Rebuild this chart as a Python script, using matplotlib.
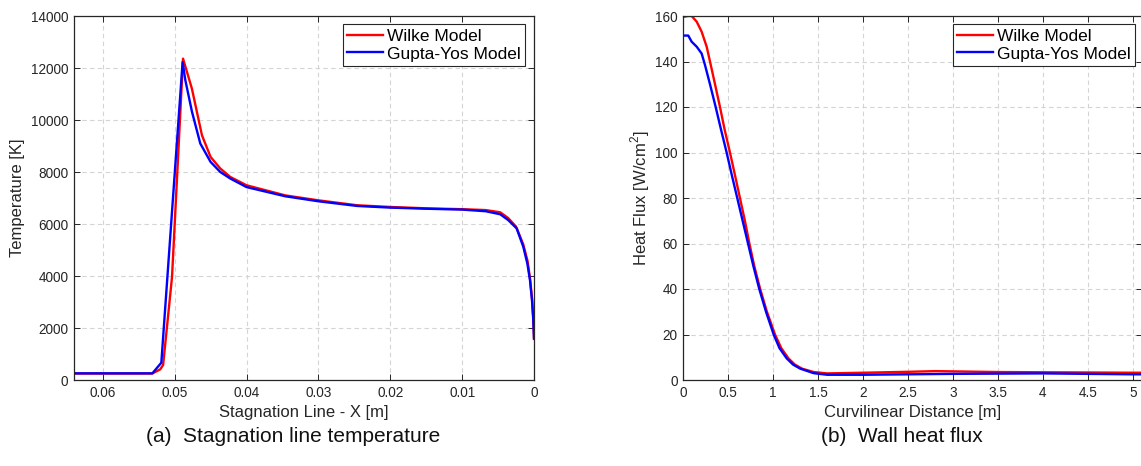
import matplotlib
matplotlib.use('Agg')
import matplotlib.pyplot as plt

plt.rcParams['font.family'] = ['Liberation Sans', 'DejaVu Sans']
plt.rcParams['mathtext.fontset'] = 'custom'
plt.rcParams['mathtext.rm'] = 'Liberation Sans'

# %% data: stagnation line temperature
x_wilke_T = [0.064, 0.0531, 0.0520, 0.0516, 0.05036, 0.04883, 0.0476, 0.0462, 0.0450,
             0.04365, 0.04226, 0.0400, 0.0346, 0.0300, 0.0246, 0.0200, 0.0147, 0.0100,
             0.0067, 0.0047, 0.0036, 0.0025, 0.0015, 0.0009, 0.00056, 0.00028, 0.0001, 0.0]
T_wilke = [250, 250, 410, 580, 3970, 12360, 11210, 9415, 8580,
           8135, 7810, 7490, 7100, 6910, 6720, 6655, 6600, 6570,
           6535, 6450, 6230, 5900, 5220, 4580, 3920, 3150, 2380, 1580]

x_gupta_T = [0.064, 0.0531, 0.05185, 0.04889, 0.04851, 0.04758, 0.04643, 0.0450,
             0.04365, 0.04226, 0.0400, 0.0346, 0.0300, 0.0246, 0.0200, 0.0147, 0.0100,
             0.0067, 0.0047, 0.00358, 0.00241, 0.00149, 0.00093, 0.00056, 0.00028, 0.0001, 0.0]
T_gupta = [256, 256, 665, 12230, 11530, 10310, 9096, 8389,
           8000, 7750, 7420, 7066, 6874, 6694, 6630, 6585, 6554,
           6490, 6374, 6149, 5830, 5123, 4485, 3843, 3074, 2306, 1600]

# %% data: wall heat flux
s_wilke = [0, 0.05, 0.093, 0.149, 0.204, 0.26, 0.297, 0.35, 0.408, 0.46, 0.519, 0.575,
           0.63, 0.685, 0.735, 0.79, 0.855, 0.93, 1.02, 1.09, 1.17, 1.24, 1.32, 1.45,
           1.6, 2.0, 2.5, 2.8, 3.0, 3.5, 4.0, 4.5, 5.0, 5.1]
q_wilke = [159.6, 160, 160, 157.5, 153.1, 146.5, 140, 130.5, 120, 110, 100, 90,
           80, 70, 60, 50, 40, 30, 20, 14, 9.5, 6.8, 5, 3.5,
           2.9, 3.2, 3.6, 3.9, 3.8, 3.5, 3.4, 3.3, 3.2, 3.2]

s_gupta = [0, 0.055, 0.093, 0.149, 0.204, 0.241, 0.297, 0.36, 0.42, 0.482, 0.54,
           0.60, 0.66, 0.72, 0.78, 0.845, 0.92, 1.005, 1.07, 1.15, 1.22, 1.3, 1.45,
           1.6, 2.0, 2.5, 3.0, 3.5, 4.0, 4.5, 5.0, 5.1]
q_gupta = [151.4, 151.4, 148.7, 146.5, 143.5, 138.5, 130, 120, 110, 100, 90,
           80, 70, 60, 50, 40, 30, 20, 14, 9.5, 6.8, 5, 3.0,
           2.3, 2.3, 2.5, 2.7, 2.8, 2.9, 2.7, 2.5, 2.5]

labels = ['Wilke Model', 'Gupta-Yos Model']
captions = ['(a)  Stagnation line temperature', '(b)  Wall heat flux']

W, H = 1141, 466
dark = '#262626'


def style(ax):
    ax.grid(True, linestyle=(0, (4, 3)), color='#d4d4d4', linewidth=0.8)
    ax.set_axisbelow(True)
    ax.tick_params(direction='in', top=True, right=True, length=4, width=0.7,
                   labelsize=9.8, colors=dark, pad=4)
    for sp in ax.spines.values():
        sp.set_color(dark)
        sp.set_linewidth(0.9)


fg = plt.figure(figsize=(W / 100, H / 100), dpi=100)

# %% left
axl = fg.add_axes([74 / W, 1 - 380 / H, 460 / W, 364 / H])
axl.plot(x_wilke_T, T_wilke, color='#ff0000', lw=1.7, label=labels[0])
axl.plot(x_gupta_T, T_gupta, color='#0000ff', lw=1.7, label=labels[1])
axl.set_xlim(0.064, 0)
axl.set_ylim(0, 14000)
axl.set_xticks([0.06, 0.05, 0.04, 0.03, 0.02, 0.01, 0])
axl.set_xticklabels(['0.06', '0.05', '0.04', '0.03', '0.02', '0.01', '0'])
axl.set_yticks(range(0, 14001, 2000))
style(axl)
axl.set_xlabel('Stagnation Line - X [m]', fontsize=12, color=dark)
axl.set_ylabel('Temperature [K]', fontsize=12, color=dark)
axl.xaxis.set_label_coords(0.5, -0.07)
axl.yaxis.set_label_coords(-0.106, 0.5)
leg = axl.legend(loc='upper right', bbox_to_anchor=(0.9804, 0.9772), borderaxespad=0,
                 fontsize=12.5, fancybox=False, framealpha=1, edgecolor=dark,
                 handlelength=2.1, handletextpad=0.2, borderpad=0.25, labelspacing=0.15)
leg.get_frame().set_linewidth(0.8)

# %% right
axr = fg.add_axes([683.3 / W, 1 - 380 / H, 458.5 / W, 364 / H])
axr.plot(s_wilke, q_wilke, color='#ff0000', lw=1.7, label=labels[0])
axr.plot(s_gupta, q_gupta, color='#0000ff', lw=1.7, label=labels[1])
axr.set_xlim(0, 5.1)
axr.set_ylim(0, 160)
axr.set_xticks([0, 0.5, 1, 1.5, 2, 2.5, 3, 3.5, 4, 4.5, 5])
axr.set_xticklabels(['0', '0.5', '1', '1.5', '2', '2.5', '3', '3.5', '4', '4.5', '5'])
axr.set_yticks(range(0, 161, 20))
style(axr)
axr.set_xlabel('Curvilinear Distance [m]', fontsize=12, color=dark)
axr.set_ylabel('Heat Flux [W/cm$^2$]', fontsize=12, color=dark)
axr.xaxis.set_label_coords(0.5, -0.07)
axr.yaxis.set_label_coords(-0.068, 0.5)
leg = axr.legend(loc='upper right', bbox_to_anchor=(0.9852, 0.9772), borderaxespad=0,
                 fontsize=12.5, fancybox=False, framealpha=1, edgecolor=dark,
                 handlelength=2.1, handletextpad=0.2, borderpad=0.25, labelspacing=0.15)
leg.get_frame().set_linewidth(0.8)

# %% captions
fg.text(293.5 / W, 1 - 436 / H, captions[0], ha='center', va='center', fontsize=15, color='#111111')
fg.text(902 / W, 1 - 436 / H, captions[1], ha='center', va='center', fontsize=15, color='#111111')

fg.savefig('out.png', dpi=100)
